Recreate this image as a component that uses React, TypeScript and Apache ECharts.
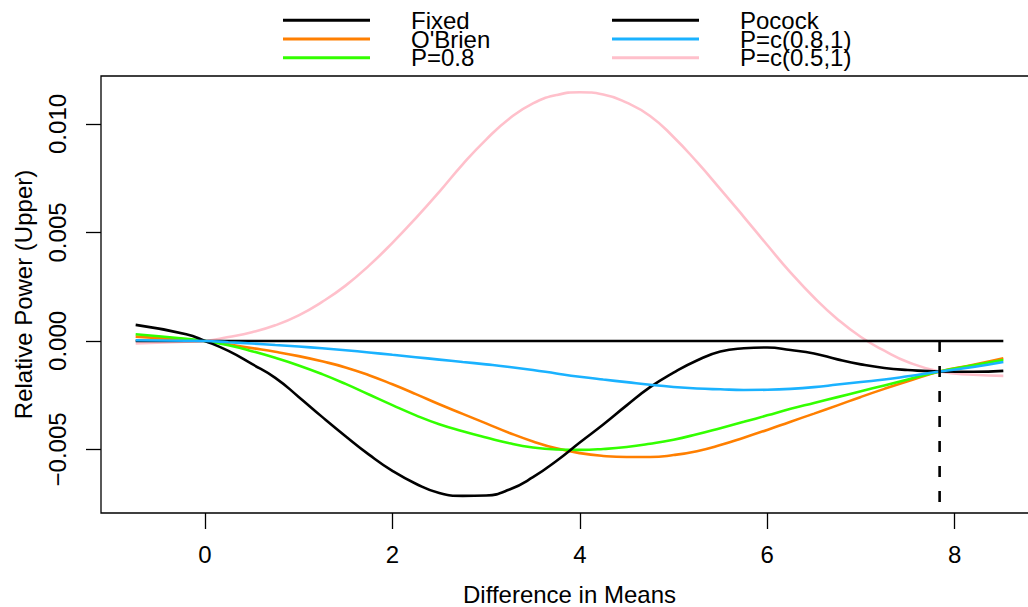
import React, { useEffect, useRef } from "react";
import * as echarts from "echarts";

const xs = [-0.74, -0.2, 0, 0.25, 0.5, 0.75, 1, 1.25, 1.5, 1.75, 2, 2.25, 2.5, 2.75, 3, 3.25, 3.5, 3.75, 4, 4.25, 4.5, 4.75, 5, 5.25, 5.5, 5.75, 6, 6.25, 6.5, 6.75, 7, 7.25, 7.5, 7.84, 8.2, 8.52];

const fixedVals = xs.map(() => 0);
const pocockVals = [0.00074, 0.00031, 0, -0.00046, -0.00106, -0.0017, -0.00258, -0.0035, -0.00439, -0.00524, -0.00599, -0.00658, -0.00701, -0.00714, -0.00712, -0.00685, -0.00628, -0.00553, -0.00468, -0.00385, -0.00297, -0.00213, -0.00146, -0.0009, -0.00049, -0.00034, -0.0003, -0.00042, -0.00058, -0.00085, -0.00108, -0.00125, -0.00134, -0.00141, -0.00142, -0.00138];
const obrienVals = [0.0002, 0.00005, 0, -0.00016, -0.00033, -0.0005, -0.0007, -0.00094, -0.00122, -0.00158, -0.002, -0.00245, -0.00292, -0.00336, -0.00380, -0.00424, -0.00463, -0.00495, -0.00517, -0.0053, -0.00535, -0.00535, -0.00526, -0.00508, -0.00480, -0.00446, -0.00410, -0.00372, -0.00335, -0.00297, -0.00258, -0.00221, -0.00186, -0.00141, -0.0011, -0.0008];
const p08Vals = [0.00031, 0.0001, 0, -0.0002, -0.00047, -0.00078, -0.00113, -0.00153, -0.00198, -0.00247, -0.00296, -0.00343, -0.00384, -0.00416, -0.00445, -0.00472, -0.00491, -0.00500, -0.00502, -0.00498, -0.00489, -0.00474, -0.00455, -0.0043, -0.00402, -0.00373, -0.00343, -0.00313, -0.00286, -0.00259, -0.00232, -0.00205, -0.00178, -0.00141, -0.00112, -0.00088];
const p081Vals = [0.00003, 0.00001, 0, -0.00006, -0.00012, -0.00019, -0.00026, -0.00034, -0.00043, -0.00053, -0.00064, -0.00075, -0.00086, -0.00097, -0.00108, -0.0012, -0.00134, -0.0015, -0.00165, -0.00178, -0.0019, -0.00202, -0.00212, -0.00219, -0.00223, -0.00226, -0.00225, -0.00221, -0.00213, -0.00201, -0.00189, -0.00178, -0.00163, -0.00141, -0.0012, -0.00097];
const p051Vals = [-0.00012, -0.00003, 0, 0.00018, 0.0004, 0.00072, 0.00118, 0.0018, 0.00255, 0.00347, 0.00452, 0.00566, 0.00687, 0.00814, 0.00928, 0.01025, 0.01095, 0.01133, 0.01146, 0.01136, 0.01098, 0.01037, 0.0094, 0.00825, 0.007, 0.00572, 0.00442, 0.00315, 0.002, 0.001, 0.00018, -0.00045, -0.00097, -0.00141, -0.00156, -0.00161];

const dashX = 7.84;
const dashY = [0, -0.0075];

const xTicks = [0, 2, 4, 6, 8];
const yTicks = [-0.005, 0, 0.005, 0.01];

const seriesDefs = [
  { name: "Fixed", color: "#000000", values: fixedVals },
  { name: "O'Brien", color: "#FF7F00", values: obrienVals },
  { name: "P=0.8", color: "#33FF00", values: p08Vals },
  { name: "Pocock", color: "#000000", values: pocockVals },
  { name: "P=c(0.8,1)", color: "#1AB2FF", values: p081Vals },
  { name: "P=c(0.5,1)", color: "#FFC0CB", values: p051Vals },
];

const FONT = "Liberation Sans, Arial, sans-serif";

export default function App() {
  const ref = useRef<HTMLDivElement>(null);
  useEffect(() => {
    if (!ref.current) return;
    const chart = echarts.init(ref.current, undefined, { renderer: "svg" });
    const legendCommon = {
      orient: "vertical",
      top: 8.2,
      padding: 0,
      itemWidth: 87,
      itemHeight: 3,
      itemGap: -5.2,
      icon: "rect",
      selectedMode: false,
      textStyle: {
        fontFamily: FONT,
        fontSize: 24,
        color: "#000",
        lineHeight: 18.3,
        padding: [0, 0, 0, 36],
      },
    };
    chart.setOption({
      animation: false,
      backgroundColor: "#ffffff",
      textStyle: { fontFamily: FONT },
      legend: [
        { ...legendCommon, left: 283, data: ["Fixed", "O'Brien", "P=0.8"] },
        { ...legendCommon, left: 612, data: ["Pocock", "P=c(0.8,1)", "P=c(0.5,1)"] },
      ],
      grid: {
        left: 101,
        top: 76,
        width: 937,
        height: 437,
        show: true,
        borderColor: "#000",
        borderWidth: 1.3,
        backgroundColor: "transparent",
        outerBoundsMode: "none",
        containLabel: false,
      },
      xAxis: {
        type: "value",
        min: -1.11,
        max: 8.89,
        name: "Difference in Means",
        nameLocation: "middle",
        nameGap: 69,
        nameTextStyle: { fontFamily: FONT, fontSize: 24, color: "#000" },
        axisLine: { show: false, onZero: false },
        splitLine: { show: false },
        axisTick: {
          show: true,
          length: 16,
          customValues: xTicks,
          lineStyle: { color: "#000", width: 1.3 },
        },
        axisLabel: {
          customValues: xTicks,
          margin: 29,
          fontFamily: FONT,
          fontSize: 24,
          color: "#000",
        },
      },
      yAxis: {
        type: "value",
        min: -0.00793,
        max: 0.01221,
        name: "Relative Power (Upper)",
        nameLocation: "middle",
        nameRotate: 90,
        nameGap: 66,
        nameTextStyle: { fontFamily: FONT, fontSize: 24, color: "#000" },
        axisLine: { show: false, onZero: false },
        splitLine: { show: false },
        axisTick: {
          show: true,
          length: 15,
          customValues: yTicks,
          lineStyle: { color: "#000", width: 1.3 },
        },
        axisLabel: {
          customValues: yTicks,
          rotate: 90,
          margin: 32,
          fontFamily: FONT,
          fontSize: 24,
          color: "#000",
          formatter: (v: number) => {
            const s = Math.abs(v).toFixed(3);
            return v < -1e-12 ? "\u2212" + s : s;
          },
        },
      },
      series: [
        ...seriesDefs.map((s) => ({
          name: s.name,
          type: "line",
          data: xs.map((x, i) => [x, s.values[i]]),
          smooth: 0.5,
          showSymbol: false,
          symbol: "none",
          itemStyle: { color: s.color },
          lineStyle: { color: s.color, width: 2.6 },
          emphasis: { disabled: true },
          z: s.name === "P=c(0.5,1)" ? 1 : 2,
        })),
        {
          name: "cutoff",
          type: "line",
          data: dashY.map((y) => [dashX, y]),
          showSymbol: false,
          symbol: "none",
          itemStyle: { color: "#000" },
          lineStyle: { color: "#000", width: 2.6, type: [11, 14] },
          emphasis: { disabled: true },
        },
      ],
    });
    return () => chart.dispose();
  }, []);
  return <div ref={ref} style={{ width: 1028, height: 607, position: "absolute", left: 0, top: 0 }} />;
}
